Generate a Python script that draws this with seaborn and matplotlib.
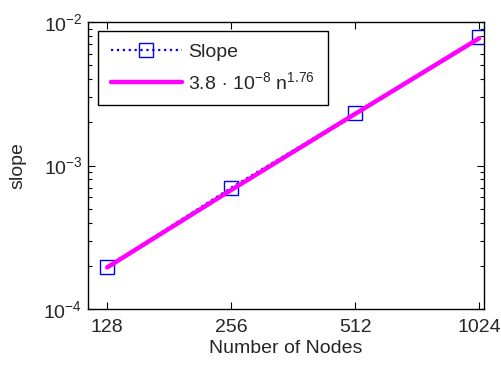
import numpy as np
import pandas as pd
import seaborn as sns
import matplotlib.pyplot as plt
from matplotlib.ticker import FixedLocator, FixedFormatter, NullLocator, LogLocator

# data
nodes = [128, 256, 512, 1024]
slope = [1.96e-4, 7.0e-4, 2.31e-3, 7.8e-3]
# fitted power law (3.8e-8 * n^1.76) as drawn at the same nodes
fit_vals = [1.95e-4, 6.75e-4, 2.29e-3, 7.7e-3]
xtick_labels = ['128', '256', '512', '1024']

sns.set_style("ticks", {"xtick.direction": "in", "ytick.direction": "in"})
plt.rcParams['font.family'] = ['Liberation Sans', 'DejaVu Sans']
plt.rcParams['mathtext.fontset'] = 'custom'
plt.rcParams['mathtext.rm'] = 'Liberation Sans'
plt.rcParams['mathtext.it'] = 'Liberation Sans:italic'
plt.rcParams['font.size'] = 14

df = pd.DataFrame({'nodes': nodes, 'slope': slope, 'fit': fit_vals})

fig = plt.figure(figsize=(5.01, 3.71), dpi=100)
ax = fig.add_axes([0.1756, 0.167, 0.7904, 0.7737])

sns.lineplot(data=df, x='nodes', y='slope', ax=ax, color='blue', linestyle=':',
             linewidth=1.6, marker='s', markersize=9.5, markerfacecolor='none',
             markeredgecolor='blue', markeredgewidth=1.0, label='Slope')
sns.lineplot(data=df, x='nodes', y='fit', ax=ax, color='magenta', linewidth=3.2,
             label='3.8$\\,\\cdot\\,$10$^{-8}$ n$^{1.76}$')

ax.set_xscale('log')
ax.set_yscale('log')
ax.set_xlim(115, 1052)
ax.set_ylim(1e-4, 1e-2)

ax.xaxis.set_major_locator(FixedLocator(nodes))
ax.xaxis.set_major_formatter(FixedFormatter(xtick_labels))
ax.xaxis.set_minor_locator(NullLocator())
ax.yaxis.set_major_locator(LogLocator(base=10, numticks=10))
ax.yaxis.set_minor_locator(LogLocator(base=10, subs=np.arange(2, 10), numticks=10))

ax.tick_params(which='both', direction='in', top=True, right=True, labelsize=14,
               color='black', width=0.8)
ax.tick_params(which='major', length=5)
ax.tick_params(which='minor', length=3)
ax.tick_params(axis='x', which='major', pad=7)
ax.tick_params(axis='y', which='major', pad=4)
for sp in ax.spines.values():
    sp.set_color('black')
    sp.set_linewidth(1.0)
    sp.set_visible(True)

ax.set_xlabel('Number of Nodes', fontsize=14, labelpad=3)
ax.set_ylabel('slope', fontsize=14, labelpad=12)

leg = ax.legend(loc='upper left', fancybox=False, edgecolor='black', framealpha=1,
                handlelength=3.7, handletextpad=0.3, fontsize=14, borderpad=0.65,
                labelspacing=0.5, borderaxespad=0, bbox_to_anchor=(0.025, 0.969))
leg.get_frame().set_linewidth(1.0)

fig.savefig('out.png', dpi=100)
